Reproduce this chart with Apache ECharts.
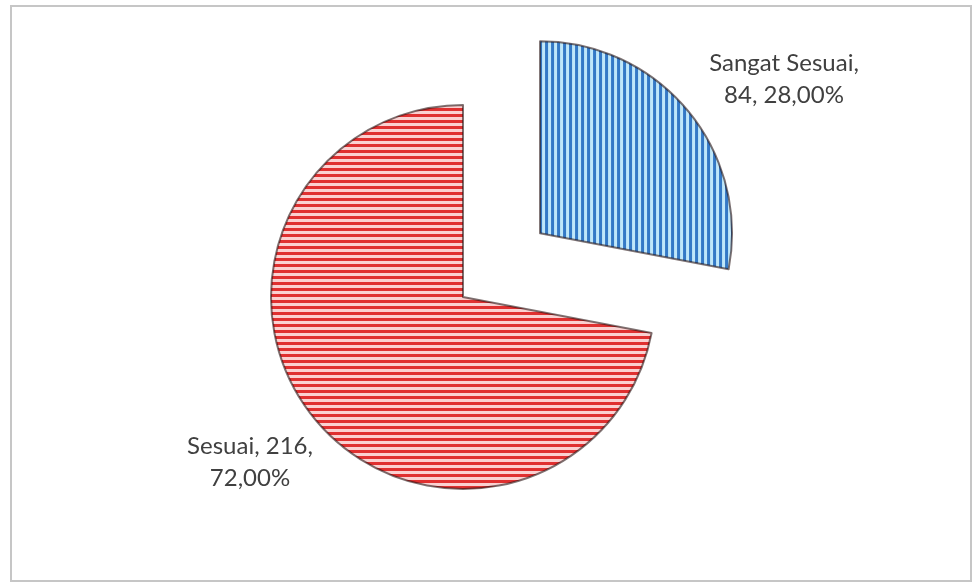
<!DOCTYPE html>
<html>
<head>
<meta charset="utf-8">
<script src="https://cdn.jsdelivr.net/npm/echarts@6/dist/echarts.min.js"></script>
<style>
  html, body { margin: 0; padding: 0; background: #ffffff; }
  #chart { width: 973px; height: 584px; }
</style>
</head>
<body>
<div id="chart"></div>
<script>
// Response categories and counts
var categories = ['Sangat Sesuai', 'Sesuai'];
var counts = [84, 216];

// Striped fills: vertical blue, horizontal red
function stripes(vertical, bg, fg, period, line) {
  var c = document.createElement('canvas');
  c.width = vertical ? period : 4;
  c.height = vertical ? 4 : period;
  var ctx = c.getContext('2d');
  ctx.fillStyle = bg;
  ctx.fillRect(0, 0, c.width, c.height);
  ctx.fillStyle = fg;
  if (vertical) ctx.fillRect(0, 0, line, c.height);
  else ctx.fillRect(0, 0, c.width, line);
  return { image: c, repeat: 'repeat' };
}

var fills = [
  stripes(true, '#bfe7fa', '#3479c6', 6, 3),
  stripes(false, '#fbd0d0', '#e03030', 6, 3)
];

var pieCenter = [463, 297];
var pieRadius = 192;
var explode = 100;

// Where each label's block is centred on the page
var labelSpots = [
  [784, 79],
  [250, 462]
];

var labelFontSize = 24;
var labelFamily = 'Lato, "Open Sans", sans-serif';
var labelMaxWidth = 170;

// Word wrap at spaces only, measured with the label font
var measureCtx = document.createElement('canvas').getContext('2d');
measureCtx.font = labelFontSize + 'px ' + labelFamily;
function wrapWords(text) {
  var words = text.split(' ');
  var lines = [];
  var cur = '';
  words.forEach(function (w) {
    var next = cur ? cur + ' ' + w : w;
    if (cur && measureCtx.measureText(next).width > labelMaxWidth) {
      lines.push(cur);
      cur = w;
    } else {
      cur = next;
    }
  });
  if (cur) lines.push(cur);
  return lines.join('\n');
}

var total = counts.reduce(function (a, b) { return a + b; }, 0);

// Centre-positioned labels sit at each slice's (possibly exploded) centre;
// offset them from there to their spot.
function sliceOrigin(i) {
  if (i !== 0) return pieCenter;
  var before = 0;
  for (var k = 0; k < i; k++) before += counts[k];
  var mid = (before + counts[i] / 2) / total * Math.PI * 2; // clockwise from 12 o'clock
  return [pieCenter[0] + Math.sin(mid) * explode, pieCenter[1] - Math.cos(mid) * explode];
}

var chart = echarts.init(document.getElementById('chart'), null, { renderer: 'canvas' });

chart.setOption({
  backgroundColor: '#ffffff',
  animation: false,
  graphic: [{
    type: 'rect',
    shape: { x: 11, y: 6, width: 960, height: 575 },
    style: { fill: 'none', stroke: '#c6c6c6', lineWidth: 2 },
    z: -10
  }],
  series: [{
    type: 'pie',
    center: pieCenter,
    radius: pieRadius,
    startAngle: 90,
    clockwise: true,
    selectedMode: 'single',
    selectedOffset: explode,
    avoidLabelOverlap: false,
    labelLine: { show: false },
    itemStyle: {
      borderColor: 'rgba(40,20,20,0.6)',
      borderWidth: 2
    },
    emphasis: { disabled: true },
    label: {
      show: true,
      position: 'center',
      fontFamily: labelFamily,
      fontSize: labelFontSize,
      lineHeight: 32,
      color: '#404040',
      align: 'center',
      formatter: function (p) {
        var pct = (p.value / total * 100).toFixed(2).replace('.', ',');
        return wrapWords(p.name + ', ' + p.value + ', ' + pct + '%');
      }
    },
    data: categories.map(function (name, i) {
      var o = sliceOrigin(i);
      var off = [labelSpots[i][0] - o[0], labelSpots[i][1] - o[1]];
      return {
        name: name,
        value: counts[i],
        selected: i === 0,
        itemStyle: { color: fills[i] },
        label: { offset: off },
        select: { label: { offset: off } }
      };
    })
  }]
});
</script>
</body>
</html>
